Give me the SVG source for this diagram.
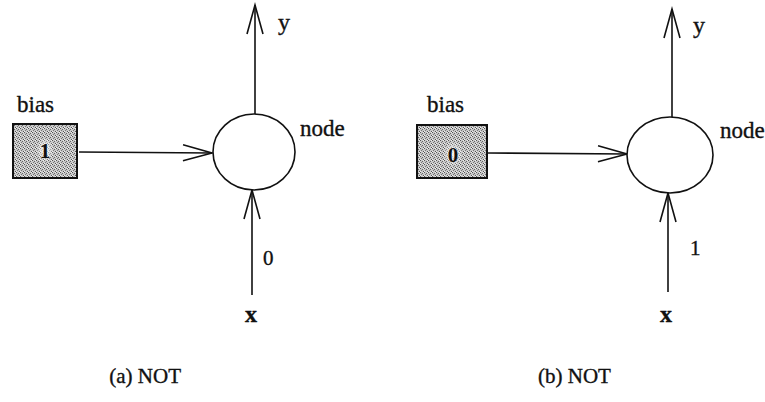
<svg xmlns="http://www.w3.org/2000/svg" width="765" height="402" viewBox="0 0 765 402">
  <style>
    .lbl { font-family: "Liberation Serif", "Times New Roman", serif; font-size: 21px; fill: #111; stroke: #111; stroke-width: 0.35; }
    .big { font-size: 24px; }
    .mid { font-size: 23px; }
    .num { font-family: "Liberation Serif", "Times New Roman", serif; font-size: 21px; font-weight: bold; fill: #111; }
    .wire { stroke: #111; stroke-width: 1.6; fill: none; }
    .unit { fill: #fff; stroke: #111; stroke-width: 1.6; }
    .box { fill: url(#stipple); stroke: #111; stroke-width: 2; }
  </style>
  <defs>
    <pattern id="stipple" width="4" height="4" patternUnits="userSpaceOnUse">
      <rect width="4" height="4" fill="#c8c8c8"/>
      <rect x="0" y="0" width="1" height="1" fill="#555"/>
      <rect x="2" y="1" width="1" height="1" fill="#666"/>
      <rect x="1" y="2" width="1" height="1" fill="#777"/>
      <rect x="3" y="3" width="1" height="1" fill="#555"/>
      <rect x="3" y="0" width="1" height="1" fill="#eee"/>
      <rect x="0" y="3" width="1" height="1" fill="#eee"/>
    </pattern>
    <radialGradient id="halo">
      <stop offset="0" stop-color="#fff" stop-opacity="0.9"/>
      <stop offset="1" stop-color="#fff" stop-opacity="0"/>
    </radialGradient>
    <marker id="vee" markerUnits="userSpaceOnUse" markerWidth="40" markerHeight="20"
            viewBox="-32 -10 34 20" refX="0" refY="0" orient="auto" overflow="visible">
      <path d="M -29 -8 L 0 0 L -29 8" fill="none" stroke="#111" stroke-width="1.6"/>
    </marker>
  </defs>

  <!-- connectors -->
  <g id="connectors">
    <!-- (a) -->
    <line class="wire" x1="79" y1="152" x2="212" y2="153" marker-end="url(#vee)"/>
    <line class="wire" x1="255" y1="115" x2="255" y2="5" marker-end="url(#vee)"/>
    <line class="wire" x1="252" y1="295" x2="252" y2="190" marker-end="url(#vee)"/>
    <!-- (b) -->
    <line class="wire" x1="488" y1="153" x2="627" y2="154" marker-end="url(#vee)"/>
    <line class="wire" x1="672" y1="117" x2="672" y2="9" marker-end="url(#vee)"/>
    <line class="wire" x1="668" y1="292" x2="668" y2="193" marker-end="url(#vee)"/>
  </g>

  <!-- (a) NOT with bias 1, input 0 -->
  <g id="bias-a">
    <rect class="box" x="13" y="124" width="64" height="54"/>
    <ellipse cx="45" cy="150" rx="9" ry="13" fill="url(#halo)"/>
    <text class="num" x="45" y="158" text-anchor="middle">1</text>
    <text class="lbl mid" x="17" y="112">bias</text>
  </g>
  <g id="node-a">
    <ellipse class="unit" cx="254" cy="152" rx="41" ry="38"/>
    <text class="lbl mid" x="300" y="136">node</text>
  </g>
  <g id="out-a">
    <text class="lbl big" x="278" y="30">y</text>
  </g>
  <g id="in-a">
    <text class="lbl big" x="245" y="322" font-weight="bold">x</text>
    <text class="lbl" x="263" y="265">0</text>
  </g>
  <text class="lbl" x="181" y="383" text-anchor="end">(a) NOT</text>

  <!-- (b) NOT with bias 0, input 1 -->
  <g id="bias-b">
    <rect class="box" x="417" y="125" width="70" height="53"/>
    <ellipse cx="453" cy="154" rx="10" ry="13" fill="url(#halo)"/>
    <text class="num" x="453" y="162" text-anchor="middle">0</text>
    <text class="lbl mid" x="427" y="112">bias</text>
  </g>
  <g id="node-b">
    <ellipse class="unit" cx="670" cy="155" rx="43" ry="38"/>
    <text class="lbl mid" x="720" y="138">node</text>
  </g>
  <g id="out-b">
    <text class="lbl big" x="693" y="33">y</text>
  </g>
  <g id="in-b">
    <text class="lbl big" x="660" y="322" font-weight="bold">x</text>
    <text class="lbl" x="690" y="255">1</text>
  </g>
  <text class="lbl" x="538" y="383">(b) NOT</text>
</svg>
